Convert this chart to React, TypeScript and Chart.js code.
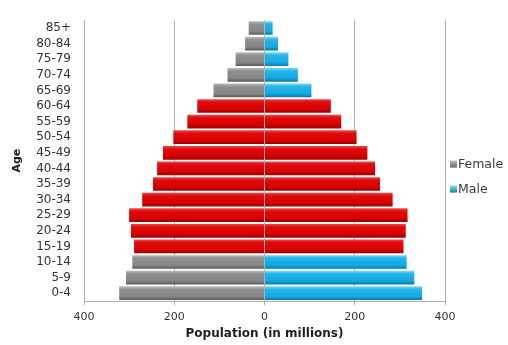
import React, { useEffect, useRef } from 'react';
import { Chart, registerables } from 'chart.js';

Chart.register(...registerables);

// Age groups, listed from the top row of the pyramid to the bottom row
const ageGroups = [
  '85+', '80-84', '75-79', '70-74', '65-69', '60-64', '55-59', '50-54', '45-49',
  '40-44', '35-39', '30-34', '25-29', '20-24', '15-19', '10-14', '5-9', '0-4',
];

// Population in millions
const female = [35, 43, 64, 82, 113, 149, 171, 202, 225, 238, 247, 271, 300, 296, 289, 293, 307, 322];
const male = [18, 30, 53, 74, 104, 147, 170, 204, 228, 245, 256, 284, 317, 313, 308, 315, 332, 349];

// Working-age groups are highlighted in red on both sides
const workingAges = ['15-19', '20-24', '25-29', '30-34', '35-39', '40-44', '45-49', '50-54', '55-59', '60-64'];

const FONT = '"DejaVu Sans", "Liberation Sans", sans-serif';
const BAR_PCT = 0.88;

// light top, body, body, dark bottom
const SHADES: Record<string, string[]> = {
  red: ['#f04848', '#e00c0c', '#d60000', '#980000'],
  gray: ['#bdbdbd', '#909090', '#858585', '#5a5a5a'],
  blue: ['#80daf6', '#22b6ec', '#14a8e0', '#0a76a6'],
};

const barFill = (other: string) => (ctx: any) => {
  const i = ctx.dataIndex;
  if (i === undefined) return SHADES[other][1];
  const shade = SHADES[workingAges.includes(ageGroups[i]) ? 'red' : other];
  const chart = ctx.chart;
  const y = chart.scales && chart.scales.y;
  if (!chart.chartArea || !y) return shade[1];
  const c = y.getPixelForValue(i);
  const h = ((y.height / ageGroups.length) * BAR_PCT) / 2;
  const g = chart.ctx.createLinearGradient(0, c - h, 0, c + h);
  g.addColorStop(0, shade[0]);
  g.addColorStop(0.22, shade[1]);
  g.addColorStop(0.75, shade[2]);
  g.addColorStop(1, shade[3]);
  return g;
};

// Small legend to the right of the plot
const sideLegend = {
  id: 'sideLegend',
  afterDraw(chart: any) {
    const { ctx, chartArea } = chart;
    const swatches = [SHADES.gray, SHADES.blue];
    const cy = (chartArea.top + chartArea.bottom) / 2 + 4;
    ctx.save();
    ctx.font = `12.5px ${FONT}`;
    ctx.textBaseline = 'middle';
    chart.data.datasets.forEach((ds: any, k: number) => {
      const y = cy + k * 25;
      const x = chartArea.right + 5;
      const g = ctx.createLinearGradient(0, y - 4, 0, y + 4);
      g.addColorStop(0, swatches[k][0]);
      g.addColorStop(1, swatches[k][3]);
      ctx.fillStyle = g;
      ctx.fillRect(x, y - 4, 7, 7);
      ctx.fillStyle = '#3a3a3a';
      ctx.fillText(ds.label, x + 8, y);
    });
    ctx.restore();
  },
};

export default function App() {
  const canvasRef = useRef<HTMLCanvasElement | null>(null);

  useEffect(() => {
    if (!canvasRef.current) return;
    const chart = new Chart(canvasRef.current, {
      type: 'bar',
      data: {
        labels: ageGroups,
        datasets: [
          { label: 'Female', data: female.map((v) => -v), backgroundColor: barFill('gray'), borderWidth: 0 },
          { label: 'Male', data: male, backgroundColor: barFill('blue'), borderWidth: 0 },
        ],
      },
      options: {
        animation: false,
        responsive: false,
        indexAxis: 'y',
        layout: { padding: { top: 12, right: 63, bottom: 0, left: 0 } },
        datasets: { bar: { categoryPercentage: 1, barPercentage: BAR_PCT } },
        plugins: { legend: { display: false }, tooltip: { enabled: false } },
        scales: {
          x: {
            stacked: true,
            min: -400,
            max: 400,
            ticks: {
              stepSize: 200,
              callback: (v: any) => Math.abs(Number(v)),
              color: '#333',
              font: { family: FONT, size: 11 },
              padding: 6,
            },
            grid: { color: '#b0b0b0', lineWidth: 1, tickLength: 4 },
            border: { color: '#b0b0b0' },
            title: {
              display: true,
              text: 'Population (in millions)',
              color: '#1e1e1e',
              font: { family: FONT, size: 12, weight: 'bold' },
              padding: { top: 0, bottom: 4 },
            },
            afterFit: (s: any) => {
              s.height = 44;
            },
          },
          y: {
            stacked: true,
            grid: { display: false, drawTicks: false },
            border: { display: true, color: '#b0b0b0' },
            ticks: { color: '#333', font: { family: FONT, size: 12 }, padding: 13, autoSkip: false },
            title: {
              display: true,
              text: 'Age',
              color: '#1e1e1e',
              font: { family: FONT, size: 11, weight: 'bold' },
              padding: { top: 11, bottom: 0 },
            },
            afterFit: (s: any) => {
              s.width = 84;
            },
          },
        },
      },
      plugins: [sideLegend],
    });
    return () => chart.destroy();
  }, []);

  return (
    <div style={{ position: 'fixed', left: 0, top: 0, width: 508, height: 345, background: '#fff' }}>
      <canvas ref={canvasRef} width={508} height={345} style={{ display: 'block' }} />
    </div>
  );
}
